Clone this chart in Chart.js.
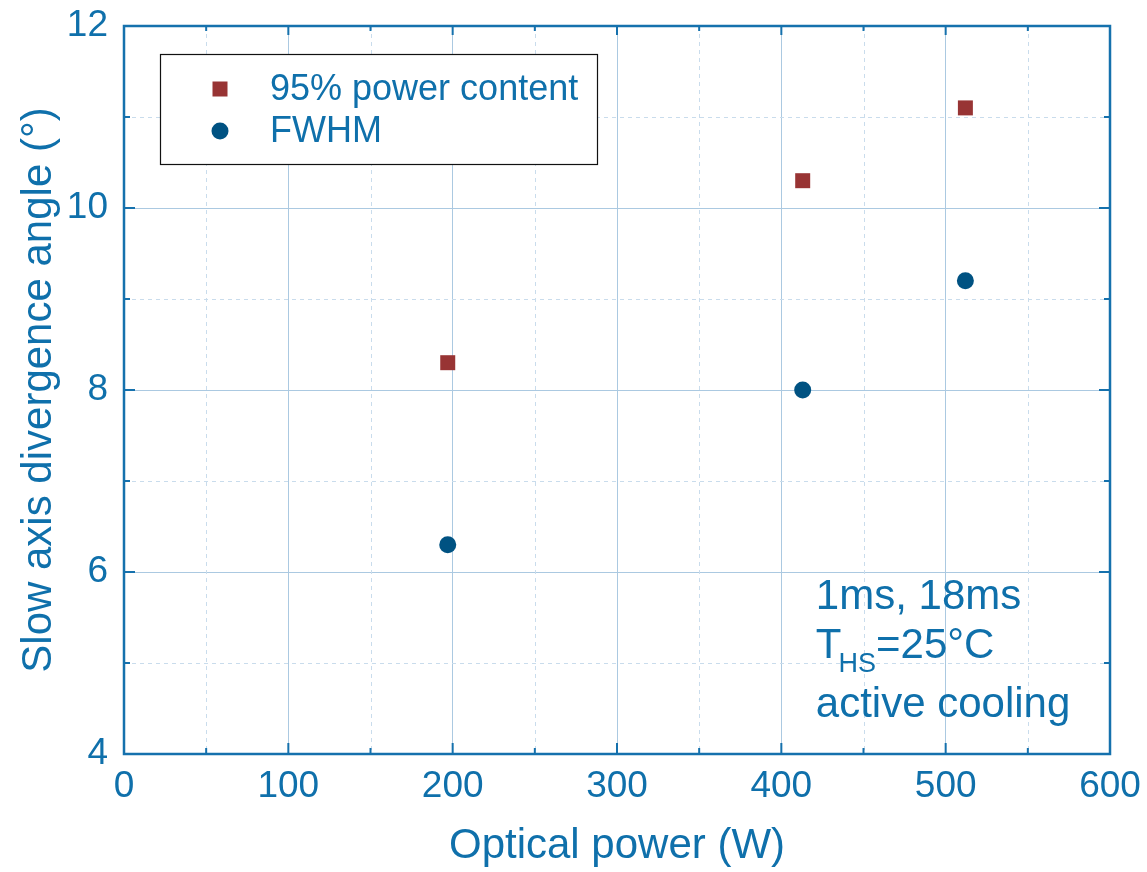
<!DOCTYPE html>
<html>
<head>
<meta charset="utf-8">
<title>Slow axis divergence angle vs optical power</title>
<script src="https://cdn.jsdelivr.net/npm/chart.js@4/dist/chart.umd.min.js"></script>
<style>
  html, body { margin: 0; padding: 0; background: #ffffff; }
  #wrap { width: 1147px; height: 872px; position: relative; }
</style>
</head>
<body>
<div id="wrap"><canvas id="chart"></canvas></div>
<script>
// Measured slow-axis divergence at three output powers
const opticalPower = [197, 413, 512];          // W
const angle95Content = [8.3, 10.3, 11.1];      // degrees, 95% power content
const angleFwhm = [6.3, 8.0, 9.2];             // degrees, FWHM

const seriesLabels = ['95% power content', 'FWHM'];
const xMajorTicks = [0, 100, 200, 300, 400, 500, 600];
const xMinorTicks = [50, 150, 250, 350, 450, 550];
const yMajorTicks = [4, 6, 8, 10, 12];
const yMinorTicks = [5, 7, 9, 11];
const noteLines = ['1ms, 18ms', 'T', 'HS', '=25°C', 'active cooling'];

const FONT = "Arial, 'Liberation Sans', sans-serif";
const TEXT_BLUE = '#0f70ab';
const AXIS_BLUE = '#1571ad';
const GRID_MAJOR = '#abc9e1';
const GRID_MINOR = '#c9dcec';
const RED = '#983434';
const NAVY = '#005282';

// Dashed minor grid, frame and inward tick marks
const framePlugin = {
  id: 'frame',
  beforeDatasetsDraw(chart) {
    const { ctx, chartArea: a, scales: { x, y } } = chart;
    ctx.save();
    ctx.strokeStyle = GRID_MINOR;
    ctx.lineWidth = 1;
    ctx.setLineDash([4, 4]);
    xMinorTicks.forEach(v => {
      const px = Math.round(x.getPixelForValue(v)) + 0.5;
      ctx.beginPath(); ctx.moveTo(px, a.top); ctx.lineTo(px, a.bottom); ctx.stroke();
    });
    yMinorTicks.forEach(v => {
      const py = Math.round(y.getPixelForValue(v)) + 0.5;
      ctx.beginPath(); ctx.moveTo(a.left, py); ctx.lineTo(a.right, py); ctx.stroke();
    });
    ctx.setLineDash([]);
    ctx.strokeStyle = AXIS_BLUE;
    ctx.lineWidth = 2;
    const tick = (x1, y1, x2, y2) => { ctx.beginPath(); ctx.moveTo(x1, y1); ctx.lineTo(x2, y2); ctx.stroke(); };
    xMajorTicks.forEach(v => {
      const px = x.getPixelForValue(v);
      tick(px, a.bottom, px, a.bottom - 11);
      tick(px, a.top, px, a.top + 9);
    });
    xMinorTicks.forEach(v => {
      const px = x.getPixelForValue(v);
      tick(px, a.bottom, px, a.bottom - 6);
      tick(px, a.top, px, a.top + 5);
    });
    yMajorTicks.forEach(v => {
      const py = y.getPixelForValue(v);
      tick(a.left, py, a.left + 11, py);
      tick(a.right, py, a.right - 11, py);
    });
    yMinorTicks.forEach(v => {
      const py = y.getPixelForValue(v);
      tick(a.left, py, a.left + 6, py);
      tick(a.right, py, a.right - 6, py);
    });
    ctx.lineWidth = 2.5;
    ctx.strokeRect(a.left, a.top, a.right - a.left, a.bottom - a.top);
    ctx.restore();
  }
};

// Boxed legend in the upper left of the plot area
const legendBoxPlugin = {
  id: 'legendBox',
  afterDatasetsDraw(chart) {
    const { ctx, chartArea: a } = chart;
    const bx = a.left + 36, by = a.top + 28, bw = 437, bh = 110;
    ctx.save();
    ctx.fillStyle = '#ffffff';
    ctx.fillRect(bx, by, bw, bh);
    ctx.strokeStyle = '#111111';
    ctx.lineWidth = 1.2;
    ctx.strokeRect(bx + 0.5, by + 0.5, bw, bh);
    chart.data.datasets.forEach((ds, i) => {
      const cy = by + 35 + i * 42;
      const mx = bx + 60;
      ctx.fillStyle = ds.backgroundColor;
      if (ds.pointStyle === 'rect') {
        ctx.fillRect(mx - 7.5, cy - 7.5, 15, 15);
      } else {
        ctx.beginPath(); ctx.arc(mx, cy, 8.5, 0, Math.PI * 2); ctx.fill();
      }
      ctx.fillStyle = TEXT_BLUE;
      ctx.font = `36px ${FONT}`;
      ctx.textBaseline = 'middle';
      ctx.textAlign = 'left';
      ctx.fillText(ds.label, bx + 110, cy + 1);
    });
    ctx.restore();
  }
};

// Measurement conditions, lower right
const notePlugin = {
  id: 'note',
  afterDatasetsDraw(chart) {
    const { ctx, chartArea: a, scales: { x } } = chart;
    const lx = x.getPixelForValue(421);
    ctx.save();
    ctx.fillStyle = TEXT_BLUE;
    ctx.textAlign = 'left';
    ctx.textBaseline = 'alphabetic';
    ctx.font = `42px ${FONT}`;
    ctx.fillText(noteLines[0], lx, a.bottom - 145);
    ctx.fillText(noteLines[1], lx, a.bottom - 96);
    const tW = ctx.measureText(noteLines[1]).width;
    ctx.font = `27px ${FONT}`;
    ctx.fillText(noteLines[2], lx + tW - 3, a.bottom - 82);
    const sW = ctx.measureText(noteLines[2]).width;
    ctx.font = `42px ${FONT}`;
    ctx.fillText(noteLines[3], lx + tW - 3 + sW, a.bottom - 96);
    ctx.fillText(noteLines[4], lx, a.bottom - 37);
    ctx.restore();
  }
};

new Chart(document.getElementById('chart'), {
  type: 'scatter',
  data: {
    datasets: [
      {
        label: seriesLabels[0],
        data: opticalPower.map((p, i) => ({ x: p, y: angle95Content[i] })),
        pointStyle: 'rect',
        pointRadius: 10.6,
        pointHoverRadius: 10.6,
        backgroundColor: RED,
        borderWidth: 0
      },
      {
        label: seriesLabels[1],
        data: opticalPower.map((p, i) => ({ x: p, y: angleFwhm[i] })),
        pointStyle: 'circle',
        pointRadius: 8.5,
        pointHoverRadius: 8.5,
        backgroundColor: NAVY,
        borderWidth: 0
      }
    ]
  },
  options: {
    responsive: true,
    maintainAspectRatio: false,
    animation: false,
    layout: { padding: { top: 26, right: 37, left: 0, bottom: 0 } },
    plugins: {
      legend: { display: false },
      tooltip: { enabled: false }
    },
    scales: {
      x: {
        type: 'linear',
        min: 0,
        max: 600,
        afterFit(scale) {
          scale.height = 118;
          scale.paddingLeft = 0;
          scale.paddingRight = 0;
        },
        afterBuildTicks(scale) { scale.ticks = xMajorTicks.map(v => ({ value: v })); },
        grid: { color: GRID_MAJOR, lineWidth: 1, drawTicks: false },
        border: { display: false },
        ticks: { color: TEXT_BLUE, font: { family: FONT, size: 37 }, padding: 11, maxRotation: 0 },
        title: {
          display: true,
          text: 'Optical power (W)',
          color: TEXT_BLUE,
          font: { family: FONT, size: 42 },
          padding: { top: 0, bottom: 0 }
        }
      },
      y: {
        type: 'linear',
        min: 4,
        max: 12,
        afterFit(scale) {
          scale.width = 124;
          scale.paddingTop = 0;
          scale.paddingBottom = 0;
        },
        afterBuildTicks(scale) { scale.ticks = yMajorTicks.map(v => ({ value: v })); },
        grid: { color: GRID_MAJOR, lineWidth: 1, drawTicks: false },
        border: { display: false },
        ticks: { color: TEXT_BLUE, font: { family: FONT, size: 37 }, padding: 16 },
        title: {
          display: true,
          text: 'Slow axis divergence angle (°)',
          color: TEXT_BLUE,
          font: { family: FONT, size: 42 },
          padding: { top: 14, bottom: 0 }
        }
      }
    }
  },
  plugins: [framePlugin, legendBoxPlugin, notePlugin]
});
</script>
</body>
</html>
